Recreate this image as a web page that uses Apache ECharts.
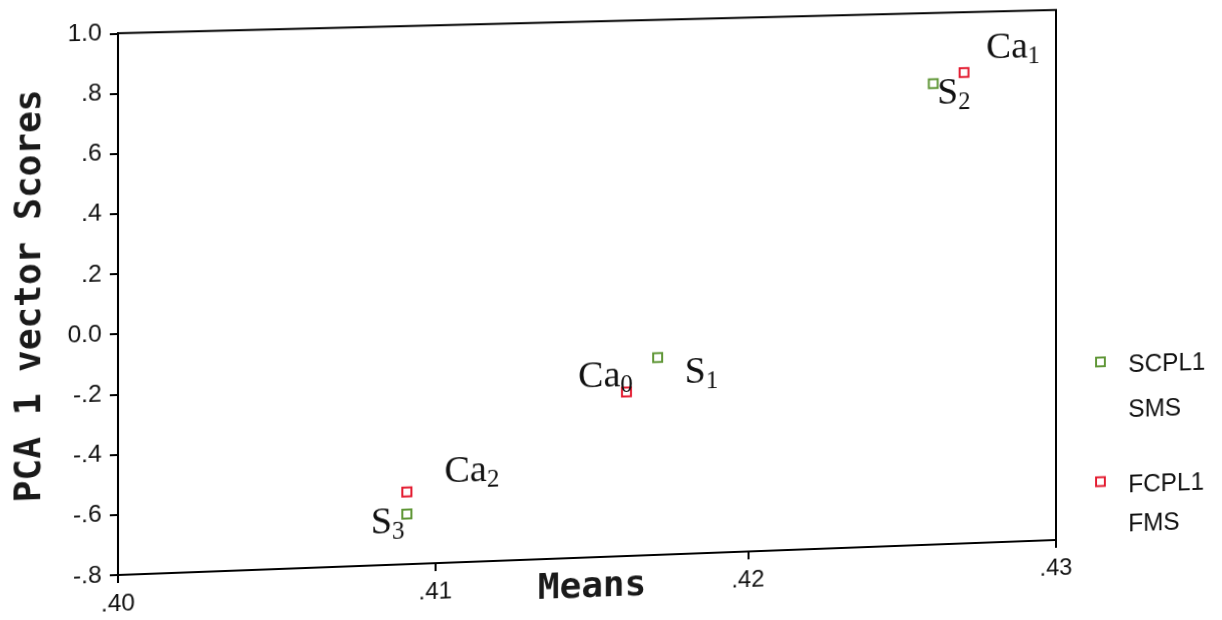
<!DOCTYPE html>
<html><head><meta charset="utf-8">
<script src="https://cdn.jsdelivr.net/npm/echarts/dist/echarts.min.js"></script>
<style>
html,body{margin:0;padding:0;background:#fff;overflow:hidden;width:1222px;height:620px;}
#chart{position:absolute;left:0;top:0;width:1222px;height:620px;
 transform-origin:118px 33.3px;
 transform:matrix3d(1.0221,-0.02539,0,0.00002356, 0,1,0,0, 0,0,1,0, 0,0,0,1);}
</style></head><body><div id="chart"></div>
<script>
// ---- data ----
const seriesNames = ['SCPL1\nSMS', 'FCPL1\nFMS'];
const scplLabels = ['S1', 'S2', 'S3'];
const scplX = [0.4171, 0.4260, 0.4091];
const scplY = [-0.136, 0.761, -0.632];
const fcplLabels = ['Ca0', 'Ca1', 'Ca2'];
const fcplX = [0.4161, 0.4270, 0.4091];
const fcplY = [-0.248, 0.796, -0.558];
const xTickLabels = ['.40', '.41', '.42', '.43'];
const yTickLabels = ['-.8', '-.6', '-.4', '-.2', '0.0', '.2', '.4', '.6', '.8', '1.0'];
const xAxisTitle = 'Means';
const yAxisTitle = 'PCA 1 vector Scores';

// ---- styling ----
const GREEN = '#5f9636', RED = '#e31a2f', INK = '#111';
const scplOffsets = [[44, 17], [21, 10.5], [-19, 8.5]];
const fcplOffsets = [[-21, -16], [50, -23.5], [64.5, -18.5]];

function pts(xs, ys, names, offs) {
  return xs.map((x, i) => ({ name: names[i], value: [x, ys[i]], label: { offset: offs[i] } }));
}
const rich = {
  m: { fontFamily: 'Liberation Serif', fontSize: 38, lineHeight: 44, color: INK },
  s: { fontFamily: 'Liberation Serif', fontSize: 25, lineHeight: 23, verticalAlign: 'bottom', color: INK }
};
function labelFmt(p) {
  const m = p.name.match(/^(\D+)(\d+)$/);
  return '{m|' + m[1] + '}{s|' + m[2] + '}';
}
function mkSeries(name, color, xs, ys, names, offs) {
  return {
    name: name, type: 'scatter', symbol: 'rect', symbolSize: 9,
    itemStyle: { color: 'rgba(255,255,255,0)', borderColor: color, borderWidth: 2, opacity: 1 },
    label: { show: true, position: 'inside', formatter: labelFmt, rich: rich, color: INK, textBorderWidth: 0 },
    emphasis: { disabled: true },
    data: pts(xs, ys, names, offs)
  };
}
function mkLegend(name, color, top, lh) {
  return {
    data: [name], left: 1096, top: top, orient: 'vertical', padding: 0,
    itemWidth: 9, itemHeight: 9, icon: 'rect', selectedMode: false,
    itemStyle: { color: 'rgba(255,255,255,0)', borderColor: color, borderWidth: 2 },
    formatter: n => '{e| }\n' + n.split('\n').map(s => '{t|' + s + '}').join('\n'),
    textStyle: {
      fontFamily: 'Liberation Sans', fontSize: 25, color: INK,
      rich: {
        e: { fontSize: 10, lineHeight: lh + 10, width: 120 },
        t: { fontFamily: 'Liberation Sans', fontSize: 25, color: INK, lineHeight: lh, padding: [0, 0, 0, 19] }
      }
    }
  };
}

const chart = echarts.init(document.getElementById('chart'), null, { renderer: 'canvas' });
chart.setOption({
  animation: false,
  backgroundColor: '#fff',
  grid: { left: 118, top: 33.3, right: 166, bottom: 45, show: true, borderColor: '#000', borderWidth: 2,
          backgroundColor: 'rgba(0,0,0,0)', containLabel: false, outerBoundsMode: 'none' },
  legend: [mkLegend(seriesNames[0], GREEN, 343.5, 46), mkLegend(seriesNames[1], RED, 472, 40)],
  xAxis: {
    type: 'value', min: 0.40, max: 0.43, interval: 0.01,
    name: xAxisTitle, nameLocation: 'middle', nameGap: 13, nameMoveOverlap: false,
    nameTextStyle: { fontFamily: 'DejaVu Sans Mono', fontWeight: 'bold', fontSize: 36, color: '#1a1a1a' },
    axisLine: { show: true, onZero: false, lineStyle: { color: '#000', width: 2 } },
    axisTick: { show: true, length: 8, lineStyle: { color: '#000', width: 2 } },
    axisLabel: { margin: 17, fontFamily: 'Liberation Sans', fontSize: 24, color: INK, showMinLabel: true, showMaxLabel: true,
                 formatter: v => xTickLabels[Math.round((v - 0.40) / 0.01)] },
    splitLine: { show: false }
  },
  yAxis: {
    type: 'value', min: -0.8, max: 1.0, interval: 0.2,
    name: yAxisTitle, nameLocation: 'middle', nameGap: 67, nameMoveOverlap: false,
    nameTextStyle: { fontFamily: 'DejaVu Sans Mono', fontWeight: 'bold', fontSize: 36, color: '#1a1a1a', padding: [0, 0, 0, 22] },
    axisLine: { show: true, onZero: false, lineStyle: { color: '#000', width: 2 } },
    axisTick: { show: true, length: 8, lineStyle: { color: '#000', width: 2 } },
    axisLabel: { margin: 16, fontFamily: 'Liberation Sans', fontSize: 24, color: INK, showMinLabel: true, showMaxLabel: true,
                 formatter: v => yTickLabels[Math.round((v + 0.8) / 0.2)] },
    splitLine: { show: false }
  },
  series: [
    mkSeries(seriesNames[0], GREEN, scplX, scplY, scplLabels, scplOffsets),
    mkSeries(seriesNames[1], RED, fcplX, fcplY, fcplLabels, fcplOffsets)
  ]
});
</script></body></html>
